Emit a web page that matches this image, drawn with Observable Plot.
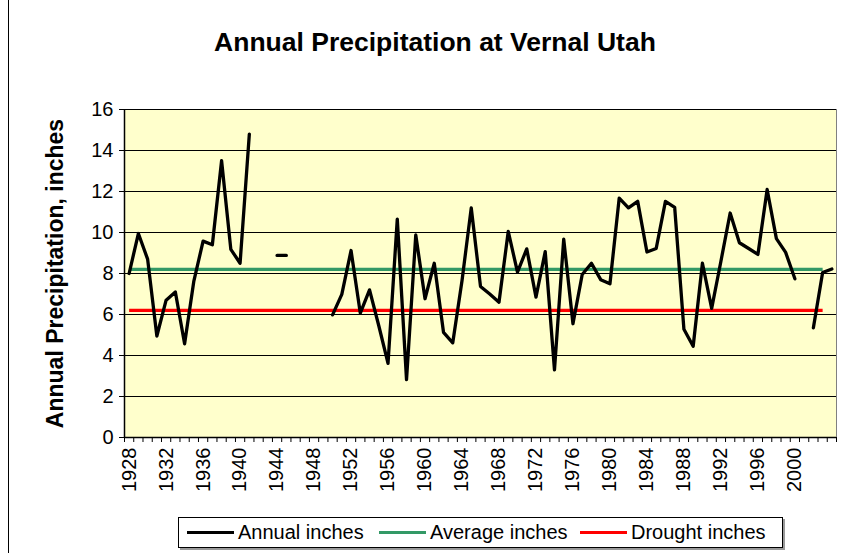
<!DOCTYPE html>
<html>
<head>
<meta charset="utf-8">
<script src="https://cdn.jsdelivr.net/npm/d3@7"></script>
<script src="https://cdn.jsdelivr.net/npm/@observablehq/plot@0.6"></script>
<style>
  html, body { margin: 0; padding: 0; background: #fff; }
  #chart { position: relative; width: 851px; height: 553px; overflow: hidden;
           font-family: "Liberation Sans", Arial, sans-serif; color: #000; }
  #title { position: absolute; left: 0; width: 870px; top: 29px; text-align: center;
           font-size: 26.5px; line-height: 26px; font-weight: bold; }
  #leftborder { position: absolute; left: 8px; top: 0; width: 1px; height: 553px; background: #000; }
  #plot { position: absolute; left: 0; top: 0; }
  #legend { position: absolute; left: 178px; top: 517px; width: 603px; height: 29px;
            border: 1px solid #000; background: #fff; box-shadow: 2px 2px 0 #9a9a9a; }
  .sw { position: absolute; top: 13px; width: 47px; height: 3px; }
  .lt { position: absolute; top: 3px; font-size: 20px; line-height: 22px; white-space: nowrap; }
</style>
</head>
<body>
<div id="chart">
  <div id="leftborder"></div>
  <div id="plot"></div>
  <div id="title"></div>
  <div id="legend"></div>
</div>
<script>
// ---- Data ----
const years = d3.range(1928, 2005); // category axis 1928..2004
const annualInches = [
  8.0, 9.95, 8.7, 4.95, 6.7, 7.1, 4.57, 7.63, 9.58, 9.4,      // 1928-1937
  13.5, 9.18, 8.5, 14.8, null, null, 8.88, 8.88, null, null,  // 1938-1947
  null, null, 5.98, 6.98, 9.12, 6.07, 7.2, 5.45, 3.62, 10.65, // 1948-1957
  2.82, 9.88, 6.77, 8.5, 5.13, 4.62, 7.65, 11.2, 7.37, 7.0,   // 1958-1967
  6.6, 10.05, 8.07, 9.2, 6.85, 9.07, 3.3, 9.68, 5.55, 7.95,   // 1968-1977
  8.5, 7.7, 7.5, 11.68, 11.2, 11.52, 9.05, 9.22, 11.52, 11.23,// 1978-1987
  5.28, 4.45, 8.5, 6.3, 8.6, 10.95, 9.5, 9.22, 8.93, 12.1,    // 1988-1997
  9.7, 9.03, 7.74, null, 5.35, 8.05, 8.22                     // 1998-2004
];
const averageInches = 8.2;
const droughtInches = 6.2;
const referenceYears = d3.range(1928, 2004); // average/drought series span 1928..2003
const yTicks = [0, 2, 4, 6, 8, 10, 12, 14, 16];
const labelYears = [1928, 1932, 1936, 1940, 1944, 1948, 1952, 1956, 1960, 1964,
                    1968, 1972, 1976, 1980, 1984, 1988, 1992, 1996, 2000];
const titleText = "Annual Precipitation at Vernal Utah";
const yTitle = "Annual Precipitation, inches";
const seriesNames = ["Annual inches", "Average inches", "Drought inches"];
const seriesColors = ["#000000", "#339966", "#FF0000"];

// ---- Derived tables ----
const annualRows = years.map((year, i) => ({year, value: annualInches[i]}));
const averageRows = referenceYears.map(year => ({year, value: averageInches}));
const droughtRows = referenceYears.map(year => ({year, value: droughtInches}));
const boundaries = d3.range(years.length + 1).map(i => years[0] - 0.5 + i);

const chart = Plot.plot({
  width: 851,
  height: 505,
  marginLeft: 124,
  marginRight: 15,
  marginTop: 109,
  marginBottom: 68,
  x: {type: "linear", domain: [years[0] - 0.5, years[years.length - 1] + 0.5], axis: null, label: null},
  y: {domain: [0, 16], axis: null, label: null},
  style: {fontFamily: "'Liberation Sans', Arial, sans-serif", fontSize: "20px", background: "transparent", overflow: "visible", color: "#000"},
  marks: [
    Plot.frame({fill: "#FFFFCC", stroke: "#808080"}),
    Plot.gridY(yTicks, {stroke: "#000", strokeOpacity: 1, strokeWidth: 1}),
    Plot.line(averageRows, {x: "year", y: "value", stroke: seriesColors[1], strokeWidth: 3.3, strokeLinecap: "butt"}),
    Plot.line(droughtRows, {x: "year", y: "value", stroke: seriesColors[2], strokeWidth: 3.3, strokeLinecap: "butt"}),
    Plot.line(annualRows, {x: "year", y: "value", stroke: seriesColors[0], strokeWidth: 3.3, strokeLinejoin: "round", strokeLinecap: "round"}),
    Plot.ruleX([boundaries[0]], {stroke: "#000", strokeWidth: 1.5}),
    Plot.ruleY([0], {stroke: "#000", strokeWidth: 1.5}),
    Plot.axisY(yTicks, {tickSize: 5, tickPadding: 6, fontSize: 20, label: null, stroke: "#000"}),
    Plot.axisX(boundaries, {tickSize: 5, tickFormat: () => "", label: null, stroke: "#000"}),
    Plot.axisX(labelYears, {tickSize: 0, tickPadding: 10, tickRotate: -90, fontSize: 20, label: null, tickFormat: d => String(d)}),
    Plot.text([yTitle], {frameAnchor: "left", textAnchor: "middle", rotate: -90, dx: -69, fontSize: 23, fontWeight: "bold", fill: "#000"})
  ]
});
document.getElementById("plot").appendChild(chart);
document.getElementById("title").textContent = titleText;

// ---- Legend ----
const legend = document.getElementById("legend");
const swatchLeft = [8, 200, 401];
const textLeft = [59, 251, 452];
seriesNames.forEach((name, i) => {
  const sw = document.createElement("div");
  sw.className = "sw";
  sw.style.left = swatchLeft[i] + "px";
  sw.style.background = seriesColors[i];
  legend.appendChild(sw);
  const t = document.createElement("div");
  t.className = "lt";
  t.style.left = textLeft[i] + "px";
  t.textContent = name;
  legend.appendChild(t);
});
</script>
</body>
</html>
